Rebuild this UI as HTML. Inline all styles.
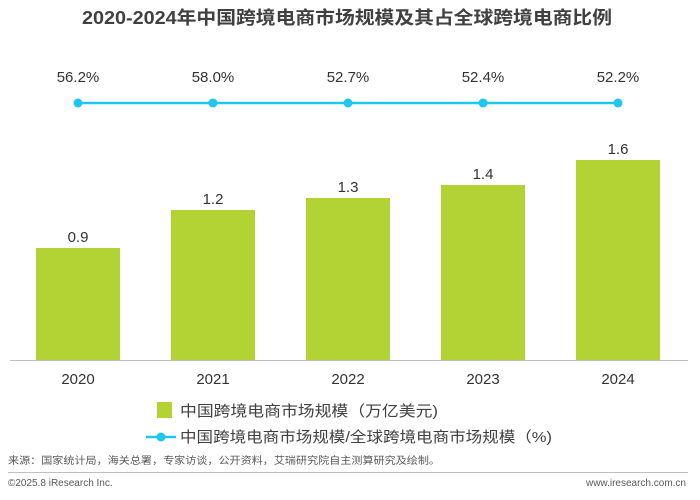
<!DOCTYPE html>
<html><head><meta charset="utf-8"><style>
body{margin:0;background:#fff;width:700px;height:495px;overflow:hidden;font-family:"Liberation Sans","Noto Sans CJK SC",sans-serif}
</style></head><body>
<svg width="700" height="495" xmlns="http://www.w3.org/2000/svg" font-family="Liberation Sans, Noto Sans CJK SC, sans-serif">
<text x="82" y="24" font-size="18" font-weight="bold" fill="#404040" textLength="530" lengthAdjust="spacingAndGlyphs">2020-2024年中国跨境电商市场规模及其占全球跨境电商比例</text>
<g fill="#b3d334">
<rect x="36" y="248" width="84" height="112"/>
<rect x="171" y="210" width="84" height="150"/>
<rect x="306" y="198" width="84" height="162"/>
<rect x="441" y="185" width="84" height="175"/>
<rect x="576" y="160" width="84" height="200"/>
</g>
<line x1="10" y1="360.5" x2="688" y2="360.5" stroke="#bfbfbf" stroke-width="1"/>
<g font-size="15" fill="#333" text-anchor="middle">
<text x="78" y="242">0.9</text><text x="213" y="204">1.2</text><text x="348" y="192">1.3</text><text x="483" y="179">1.4</text><text x="618" y="154">1.6</text>
<text x="78" y="384">2020</text><text x="213" y="384">2021</text><text x="348" y="384">2022</text><text x="483" y="384">2023</text><text x="618" y="384">2024</text>
<text x="78" y="82">56.2%</text><text x="213" y="82">58.0%</text><text x="348" y="82">52.7%</text><text x="483" y="82">52.4%</text><text x="618" y="82">52.2%</text>
</g>
<line x1="78" y1="103" x2="618" y2="103" stroke="#1fc6ee" stroke-width="2.5"/>
<g fill="#1fc6ee"><circle cx="78" cy="103" r="4.5"/><circle cx="213" cy="103" r="4.5"/><circle cx="348" cy="103" r="4.5"/><circle cx="483" cy="103" r="4.5"/><circle cx="618" cy="103" r="4.5"/></g>
<rect x="157" y="402" width="15" height="16" fill="#b3d334"/>
<text x="180" y="416" font-size="15" fill="#404040" textLength="258" lengthAdjust="spacingAndGlyphs">中国跨境电商市场规模（万亿美元)</text>
<line x1="146" y1="437" x2="176" y2="437" stroke="#1fc6ee" stroke-width="2.5"/>
<circle cx="161" cy="437" r="4.5" fill="#1fc6ee"/>
<text x="180" y="442" font-size="15" fill="#404040" textLength="372" lengthAdjust="spacingAndGlyphs">中国跨境电商市场规模/全球跨境电商市场规模（%)</text>
<text x="8" y="464" font-size="10" fill="#595959" textLength="432" lengthAdjust="spacingAndGlyphs">来源：国家统计局，海关总署，专家访谈，公开资料，艾瑞研究院自主测算研究及绘制。</text>
<line x1="8" y1="472.5" x2="688" y2="472.5" stroke="#bfbfbf"/>
<text x="8" y="486" font-size="10" fill="#595959">©2025.8 iResearch Inc.</text>
<text x="686" y="486" font-size="10" fill="#595959" text-anchor="end">www.iresearch.com.cn</text>
</svg>
</body></html>
